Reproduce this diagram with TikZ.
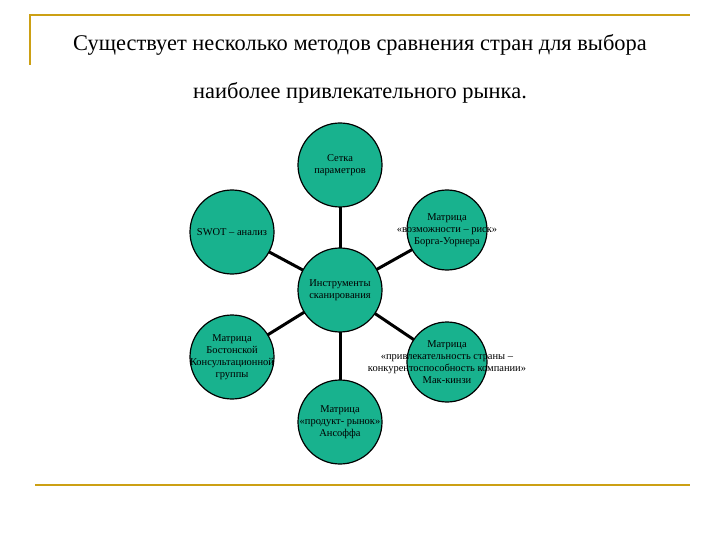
\documentclass[tikz,border=0pt]{standalone}
\usepackage{fontspec}
\setmainfont{Liberation Serif}
\begin{document}
\begin{tikzpicture}[x=1bp,y=-1bp,
  circ/.style={circle,draw=black,line width=1.2bp,fill=circfill,minimum size=84bp,inner sep=0pt},
  lbl/.style={align=center,inner sep=0pt,font=\fontsize{10.5}{12}\selectfont},
  link/.style={line width=3bp,black},
  gold/.style={line width=1.5bp,draw=goldc}]
\definecolor{circfill}{RGB}{24,178,142}
\definecolor{goldc}{RGB}{204,160,20}
\useasboundingbox (0,0) rectangle (720,540);
\draw[gold] (30,65) -- (30,15) -- (690,15);
\draw[gold] (35,485) -- (690,485);
\node (t1) at (360,45) {\fontsize{22.5}{26}\selectfont Существует несколько методов сравнения стран для выбора};
\node (t2) at (360,93) {\fontsize{22.5}{26}\selectfont наиболее привлекательного рынка.};
\coordinate (cc) at (340,290);
\coordinate (ct) at (340,165);
\coordinate (ctr) at (447,230);
\coordinate (ctl) at (232,232);
\coordinate (cbl) at (232,357);
\coordinate (cbr) at (447,362);
\coordinate (cb) at (340,422);
\foreach \p in {ct,ctr,ctl,cbl,cbr,cb} \draw[link] (cc) -- (\p);
\node[circ] (top) at (ct) {};
\node[circ,minimum size=80bp] (tr) at (ctr) {};
\node[circ] (tl) at (ctl) {};
\node[circ] (bl) at (cbl) {};
\node[circ,minimum size=80bp] (br) at (cbr) {};
\node[circ] (bot) at (cb) {};
\node[circ] (center) at (cc) {};
\node[lbl] (ltop) at (top) {Сетка\\параметров};
\node[lbl] (ltr) at (tr) {Матрица\\«возможности – риск»\\Борга-Уорнера};
\node[lbl] (ltl) at (tl) {SWOT – анализ};
\node[lbl] (lbl) at (bl) {Матрица\\Бостонской\\Консультационной\\группы};
\node[lbl] (lbr) at (br) {Матрица\\«привлекательность страны –\\конкурентоспособность компании»\\Мак-кинзи};
\node[lbl] (lbot) at (bot) {Матрица\\«продукт- рынок»\\Ансоффа};
\node[lbl] (lc) at (center) {Инструменты\\сканирования};
\end{tikzpicture}
\end{document}
